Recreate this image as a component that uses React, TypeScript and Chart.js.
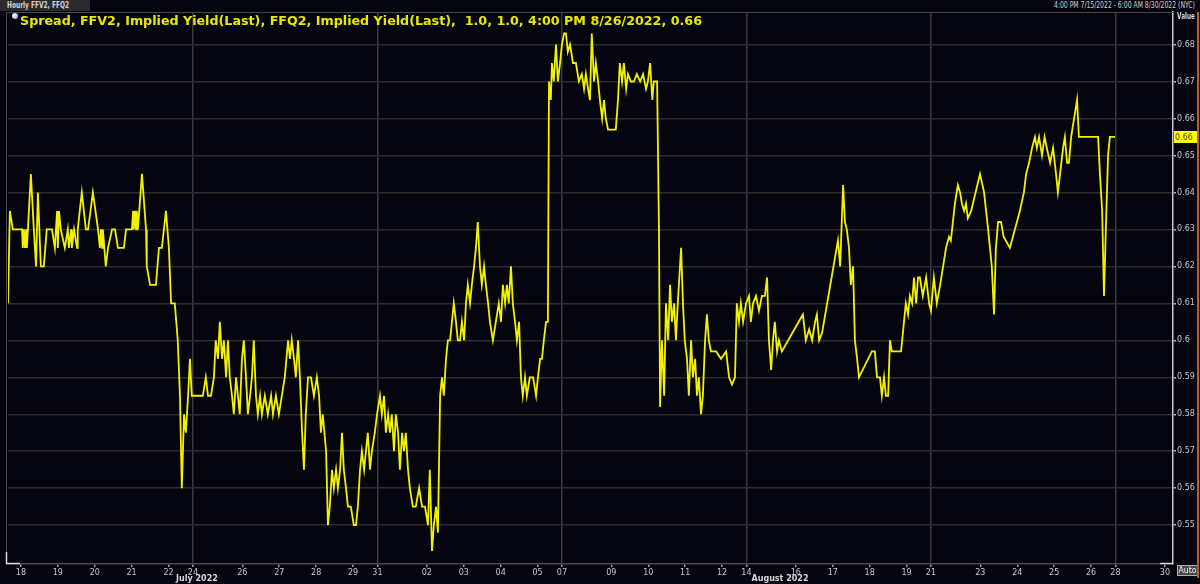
import React, { useEffect, useLayoutEffect, useRef } from "react";
import { Chart, registerables } from "chart.js";

Chart.register(...registerables);

// ---- DATA ----
// x: trading-day index (Mon 18 Jul 2022 = 0, one unit per weekday session)
const xTickValues = [0, 1, 2, 3, 4, 4.66, 6, 7, 8, 9, 9.66, 11, 12, 13, 14, 14.66, 16, 17, 18, 19, 19.66, 21, 22, 23, 24, 24.66, 26, 27, 28, 29, 29.66, 31];
const xTickLabels = ["18", "19", "20", "21", "22", "24", "26", "27", "28", "29", "31", "02", "03", "04", "05", "07", "09", "10", "11", "12", "14", "16", "17", "18", "19", "21", "23", "24", "25", "26", "28", "30"];
const weekStarts = [4.66, 9.66, 14.66, 19.66, 24.66, 29.66];
const monthLabels = ["July 2022", "August 2022"];
const monthPositions = [4.77, 20.57];
const yTickValues = [0.55, 0.56, 0.57, 0.58, 0.59, 0.6, 0.61, 0.62, 0.63, 0.64, 0.65, 0.66, 0.67, 0.68];
const lastValue = 0.655;
const lastLabel = "0.66";

const spreadX = [
  -0.35, -0.30, -0.22, 0.03, 0.05, 0.08, 0.11, 0.14, 0.16, 0.19, 0.27, 0.35, 0.41, 0.46, 0.54, 0.62, 0.70, 0.84, 0.92, 0.98,
  1.00, 1.03, 1.08, 1.19, 1.27, 1.30, 1.36, 1.38, 1.44, 1.52, 1.54, 1.65, 1.76, 1.82, 1.95, 2.09, 2.14, 2.17, 2.20, 2.22,
  2.30, 2.36, 2.47, 2.55, 2.63, 2.79, 2.85, 3.01, 3.04, 3.06, 3.09, 3.12, 3.14, 3.17, 3.28, 3.39, 3.41, 3.50, 3.66, 3.74,
  3.82, 3.93, 4.01, 4.07, 4.17, 4.25, 4.31, 4.36, 4.42, 4.47, 4.53, 4.58, 4.63, 4.66, 4.77, 4.85, 4.93, 5.01, 5.07, 5.15,
  5.23, 5.28, 5.34, 5.39, 5.45, 5.50, 5.56, 5.61, 5.66, 5.72, 5.77, 5.83, 5.88, 5.93, 5.99, 6.04, 6.10, 6.15, 6.21, 6.26,
  6.31, 6.37, 6.42, 6.48, 6.53, 6.61, 6.69, 6.78, 6.83, 6.91, 6.99, 7.07, 7.15, 7.24, 7.29, 7.34, 7.40, 7.45, 7.51, 7.56,
  7.62, 7.67, 7.72, 7.78, 7.86, 7.94, 8.02, 8.08, 8.13, 8.18, 8.27, 8.32, 8.37, 8.43, 8.48, 8.54, 8.59, 8.65, 8.70, 8.75,
  8.81, 8.86, 8.94, 9.02, 9.08, 9.13, 9.19, 9.24, 9.30, 9.35, 9.40, 9.46, 9.51, 9.59, 9.65, 9.73, 9.78, 9.84, 9.89, 9.95,
  10.00, 10.05, 10.11, 10.16, 10.22, 10.27, 10.33, 10.38, 10.43, 10.49, 10.54, 10.62, 10.70, 10.79, 10.87, 10.95, 11.03, 11.08, 11.14, 11.19,
  11.25, 11.30, 11.36, 11.41, 11.46, 11.52, 11.57, 11.63, 11.68, 11.73, 11.79, 11.84, 11.90, 11.95, 12.01, 12.06, 12.11, 12.17, 12.22, 12.28,
  12.33, 12.38, 12.44, 12.49, 12.55, 12.60, 12.66, 12.71, 12.79, 12.87, 12.95, 13.01, 13.06, 13.12, 13.17, 13.22, 13.28, 13.33, 13.39, 13.44,
  13.50, 13.55, 13.60, 13.66, 13.71, 13.79, 13.88, 13.96, 14.01, 14.07, 14.12, 14.17, 14.23, 14.28, 14.31, 14.36, 14.39, 14.44, 14.50, 14.55,
  14.61, 14.66, 14.72, 14.77, 14.82, 14.88, 14.96, 15.04, 15.12, 15.20, 15.26, 15.31, 15.37, 15.42, 15.47, 15.53, 15.58, 15.64, 15.69, 15.75,
  15.80, 15.85, 15.91, 16.02, 16.12, 16.18, 16.23, 16.29, 16.34, 16.40, 16.45, 16.53, 16.61, 16.69, 16.78, 16.86, 16.94, 16.99, 17.05, 17.11,
  17.15, 17.24, 17.29, 17.32, 17.37, 17.43, 17.48, 17.54, 17.59, 17.64, 17.70, 17.75, 17.80, 17.89, 17.94, 17.99, 18.05, 18.10, 18.16, 18.21,
  18.27, 18.32, 18.37, 18.43, 18.48, 18.54, 18.59, 18.64, 18.70, 18.84, 18.97, 19.11, 19.19, 19.27, 19.35, 19.40, 19.46, 19.51, 19.57, 19.65,
  19.73, 19.78, 19.84, 19.92, 20.00, 20.08, 20.16, 20.22, 20.27, 20.33, 20.38, 20.43, 20.49, 20.54, 20.62, 21.19, 21.27, 21.36, 21.44, 21.52,
  21.57, 21.63, 21.71, 22.14, 22.20, 22.28, 22.33, 22.38, 22.44, 22.49, 22.55, 22.60, 22.66, 22.71, 23.06, 23.14, 23.20, 23.28, 23.33, 23.39,
  23.44, 23.50, 23.55, 23.60, 23.85, 23.93, 23.98, 24.04, 24.09, 24.15, 24.20, 24.26, 24.31, 24.36, 24.44, 24.53, 24.61, 24.66, 24.74, 24.82,
  24.91, 24.99, 25.07, 25.15, 25.20, 25.31, 25.39, 25.45, 25.50, 25.56, 25.61, 25.66, 25.75, 25.99, 26.10, 26.21, 26.26, 26.31, 26.37, 26.42,
  26.48, 26.56, 26.63, 26.80, 27.07, 27.18, 27.24, 27.32, 27.40, 27.48, 27.53, 27.59, 27.67, 27.74, 27.80, 27.89, 27.97, 28.05, 28.10, 28.16,
  28.24, 28.29, 28.35, 28.40, 28.46, 28.54, 28.62, 28.67, 29.19, 29.24, 29.30, 29.35, 29.40, 29.46, 29.51, 29.65,
];

const spreadY = [
  0.61, 0.635, 0.63, 0.63, 0.625, 0.63, 0.625, 0.63, 0.625, 0.63, 0.645, 0.63, 0.62, 0.64, 0.62, 0.62, 0.63, 0.63, 0.625, 0.635,
  0.625, 0.635, 0.63, 0.625, 0.63, 0.625, 0.63, 0.625, 0.63, 0.625, 0.63, 0.64, 0.63, 0.63, 0.64, 0.63, 0.625, 0.63, 0.625, 0.63,
  0.62, 0.625, 0.63, 0.63, 0.625, 0.625, 0.63, 0.63, 0.635, 0.63, 0.635, 0.63, 0.635, 0.63, 0.645, 0.63, 0.62, 0.615, 0.615, 0.625,
  0.625, 0.635, 0.625, 0.61, 0.61, 0.60, 0.585, 0.56, 0.58, 0.575, 0.585, 0.595, 0.585, 0.585, 0.585, 0.585, 0.585, 0.59, 0.585, 0.585,
  0.59, 0.60, 0.595, 0.605, 0.595, 0.60, 0.59, 0.60, 0.59, 0.585, 0.58, 0.59, 0.585, 0.58, 0.595, 0.60, 0.59, 0.58, 0.585, 0.59,
  0.60, 0.585, 0.58, 0.585, 0.58, 0.585, 0.58, 0.585, 0.58, 0.585, 0.58, 0.585, 0.59, 0.60, 0.595, 0.60, 0.595, 0.59, 0.60, 0.59,
  0.575, 0.565, 0.58, 0.59, 0.59, 0.585, 0.59, 0.585, 0.575, 0.58, 0.57, 0.55, 0.555, 0.565, 0.56, 0.565, 0.56, 0.565, 0.575, 0.565,
  0.56, 0.555, 0.555, 0.55, 0.55, 0.555, 0.565, 0.57, 0.565, 0.57, 0.575, 0.565, 0.57, 0.575, 0.58, 0.585, 0.58, 0.585, 0.575, 0.58,
  0.575, 0.58, 0.57, 0.58, 0.575, 0.565, 0.575, 0.57, 0.575, 0.565, 0.56, 0.555, 0.555, 0.56, 0.555, 0.555, 0.55, 0.565, 0.543, 0.55,
  0.555, 0.548, 0.585, 0.59, 0.585, 0.595, 0.60, 0.60, 0.605, 0.61, 0.605, 0.60, 0.60, 0.605, 0.60, 0.61, 0.615, 0.61, 0.615, 0.62,
  0.625, 0.632, 0.62, 0.615, 0.62, 0.615, 0.61, 0.605, 0.60, 0.605, 0.61, 0.605, 0.615, 0.61, 0.615, 0.61, 0.62, 0.61, 0.605, 0.60,
  0.605, 0.59, 0.585, 0.59, 0.585, 0.59, 0.59, 0.585, 0.59, 0.595, 0.595, 0.60, 0.605, 0.605, 0.67, 0.665, 0.675, 0.67, 0.68, 0.67,
  0.675, 0.68, 0.683, 0.683, 0.678, 0.68, 0.675, 0.675, 0.67, 0.672, 0.668, 0.672, 0.668, 0.665, 0.683, 0.67, 0.675, 0.67, 0.665, 0.66,
  0.665, 0.66, 0.657, 0.657, 0.657, 0.665, 0.675, 0.67, 0.675, 0.668, 0.672, 0.67, 0.67, 0.672, 0.67, 0.672, 0.668, 0.67, 0.675, 0.665,
  0.67, 0.67, 0.63, 0.582, 0.60, 0.585, 0.61, 0.60, 0.615, 0.605, 0.61, 0.60, 0.61, 0.625, 0.61, 0.60, 0.595, 0.585, 0.60, 0.59,
  0.595, 0.585, 0.59, 0.58, 0.585, 0.60, 0.607, 0.60, 0.597, 0.597, 0.595, 0.597, 0.59, 0.588, 0.59, 0.61, 0.605, 0.61, 0.605, 0.61,
  0.612, 0.605, 0.61, 0.612, 0.608, 0.612, 0.612, 0.617, 0.60, 0.592, 0.60, 0.605, 0.597, 0.60, 0.597, 0.607, 0.60, 0.603, 0.60, 0.605,
  0.607, 0.60, 0.602, 0.627, 0.62, 0.642, 0.632, 0.63, 0.625, 0.615, 0.62, 0.60, 0.595, 0.59, 0.597, 0.597, 0.59, 0.59, 0.585, 0.59,
  0.585, 0.585, 0.60, 0.597, 0.597, 0.605, 0.61, 0.607, 0.612, 0.61, 0.617, 0.61, 0.617, 0.617, 0.612, 0.617, 0.61, 0.608, 0.617, 0.61,
  0.615, 0.62, 0.625, 0.628, 0.627, 0.637, 0.642, 0.64, 0.637, 0.635, 0.637, 0.633, 0.635, 0.645, 0.64, 0.63, 0.625, 0.62, 0.607, 0.625,
  0.632, 0.632, 0.628, 0.625, 0.635, 0.64, 0.645, 0.648, 0.652, 0.655, 0.652, 0.655, 0.65, 0.655, 0.652, 0.648, 0.652, 0.645, 0.64, 0.645,
  0.652, 0.655, 0.648, 0.648, 0.655, 0.66, 0.665, 0.655, 0.655, 0.645, 0.635, 0.612, 0.63, 0.65, 0.655, 0.655,
];

const X_MIN = -0.35;
const X_MAX = 31.22;
const Y_MIN = 0.5395;
const Y_MAX = 0.6888;

const BG = "#05050f";
const FONT = '"DejaVu Sans", sans-serif';

function FitText({ text, width, style }: { text: string; width: number; style: React.CSSProperties }) {
  const ref = useRef<HTMLSpanElement | null>(null);
  useLayoutEffect(() => {
    const el = ref.current;
    if (!el) return;
    el.style.transform = "none";
    const w = el.getBoundingClientRect().width;
    if (w > 0) el.style.transform = `scaleX(${width / w})`;
  }, [text, width]);
  return (
    <span
      ref={ref}
      style={{ position: "absolute", whiteSpace: "pre", transformOrigin: "left center", display: "inline-block", ...style }}
    >
      {text}
    </span>
  );
}

const decorPlugin = {
  id: "decor",
  afterDraw(chart: any) {
    const { ctx, chartArea: a } = chart;
    const xs = chart.scales.x;
    const ys = chart.scales.y;
    ctx.save();
    // panel frame
    ctx.strokeStyle = "#4a4a4a";
    ctx.lineWidth = 1;
    ctx.beginPath();
    ctx.moveTo(6.5, a.bottom);
    ctx.lineTo(6.5, 12.5);
    ctx.lineTo(a.right, 12.5);
    ctx.stroke();
    // bright range brackets
    ctx.strokeStyle = "#d8d8d8";
    ctx.lineWidth = 1.5;
    ctx.beginPath();
    ctx.moveTo(6.5, a.bottom - 12);
    ctx.lineTo(6.5, a.bottom - 0.5);
    ctx.lineTo(20, a.bottom - 0.5);
    ctx.stroke();
    ctx.beginPath();
    ctx.moveTo(1160, a.bottom - 0.5);
    ctx.lineTo(a.right, a.bottom - 0.5);
    ctx.stroke();
    // month labels
    ctx.font = `bold 8px ${FONT}`;
    ctx.fillStyle = "#d8d8d8";
    ctx.textAlign = "center";
    ctx.textBaseline = "middle";
    monthLabels.forEach((m, i) => ctx.fillText(m, xs.getPixelForValue(monthPositions[i]), 579));
    // last value tag
    const yp = ys.getPixelForValue(lastValue);
    ctx.fillStyle = "#ffff00";
    ctx.fillRect(a.right + 1, yp - 6, 24, 12);
    ctx.fillStyle = "#4a4a00";
    ctx.font = `8px ${FONT}`;
    ctx.textAlign = "left";
    ctx.fillText(lastLabel, a.right + 2, yp + 0.5);
    // axis title
    ctx.fillStyle = "#d8d8d8";
    ctx.font = `bold 8px ${FONT}`;
    ctx.fillText("Value", a.right + 4, 17, 18);
    // Auto box
    ctx.fillStyle = "#4a4a4a";
    ctx.fillRect(1177, 565, 20, 10);
    ctx.strokeStyle = "#b0b0b0";
    ctx.lineWidth = 1;
    ctx.strokeRect(1177.5, 565.5, 20, 10);
    ctx.fillStyle = "#eeeeee";
    ctx.font = `8px ${FONT}`;
    ctx.fillText("Auto", 1178.5, 570.5, 18);
    // orange edge
    ctx.strokeStyle = "#b8602a";
    ctx.lineWidth = 2;
    ctx.beginPath();
    ctx.moveTo(1198, 12);
    ctx.lineTo(1198, 578);
    ctx.stroke();
    ctx.restore();
  },
};

export default function App() {
  const canvasRef = useRef<HTMLCanvasElement | null>(null);

  useEffect(() => {
    const canvas = canvasRef.current;
    if (!canvas) return;
    const points = spreadX.map((x, i) => ({ x, y: spreadY[i] }));
    const chart = new Chart(canvas, {
      type: "line",
      data: {
        datasets: [
          {
            label: "Spread",
            data: points,
            borderColor: "#f2f200",
            borderWidth: 1.8,
            pointRadius: 0,
            tension: 0,
            fill: false,
          },
        ],
      },
      options: {
        responsive: false,
        animation: false,
        devicePixelRatio: 1,
        layout: { padding: { left: 8, top: 12, right: 0, bottom: 0 } },
        plugins: { legend: { display: false }, tooltip: { enabled: false } },
        scales: {
          x: {
            type: "linear",
            min: X_MIN,
            max: X_MAX,
            afterBuildTicks: (scale: any) => {
              scale.ticks = xTickValues.map((v) => ({ value: v }));
            },
            afterFit: (scale: any) => {
              scale.height = 20;
            },
            ticks: {
              autoSkip: false,
              maxRotation: 0,
              minRotation: 0,
              padding: 1,
              color: "#c8c8c8",
              font: { family: FONT, size: 8 },
              callback: (value: any, index: number) => xTickLabels[index],
            },
            grid: {
              color: (ctx: any) =>
                ctx.tick && weekStarts.includes(ctx.tick.value) ? "#3a3a3a" : "rgba(0,0,0,0)",
              lineWidth: 1.5,
              tickColor: "#a0a0a0",
              tickLength: 3,
              drawTicks: true,
            },
            border: { display: true, color: "#4a4a4a", width: 1.5 },
          },
          y: {
            type: "linear",
            position: "right",
            min: Y_MIN,
            max: Y_MAX,
            afterBuildTicks: (scale: any) => {
              scale.ticks = yTickValues.map((v) => ({ value: v }));
            },
            afterFit: (scale: any) => {
              scale.width = 27;
            },
            ticks: {
              padding: 1,
              color: "#c8c8c8",
              font: { family: FONT, size: 8 },
              callback: (value: any) => String(Number(Number(value).toFixed(2))),
            },
            grid: {
              color: "#2c2c2c",
              lineWidth: 1.5,
              tickColor: "#b0b0b0",
              tickLength: 3,
              drawTicks: true,
            },
            border: { display: true, color: "#c8c8c8", width: 1.5 },
          },
        },
      },
      plugins: [decorPlugin],
    });
    return () => chart.destroy();
  }, []);

  return (
    <div
      style={{
        position: "fixed",
        left: 0,
        top: 0,
        width: 1200,
        height: 584,
        background: BG,
        overflow: "hidden",
      }}
    >
      <div style={{ position: "absolute", left: 0, top: 0, width: 90, height: 11, background: "#2a2a2e" }} />
      <FitText
        text="Hourly FFV2, FFQ2"
        width={62}
        style={{ left: 7, top: 0, fontFamily: FONT, fontWeight: "bold", fontSize: 8, lineHeight: "11px", color: "#d4d4d4" }}
      />
      <FitText
        text="4:00 PM 7/15/2022 - 6:00 AM 8/30/2022 (NYC)"
        width={141}
        style={{ left: 1054, top: 0, fontFamily: FONT, fontSize: 8, lineHeight: "11px", color: "#d0d0d0" }}
      />
      <canvas ref={canvasRef} width={1200} height={584} style={{ position: "absolute", left: 0, top: 0, display: "block" }} />
      <div
        style={{
          position: "absolute",
          left: 12,
          top: 13,
          width: 6,
          height: 6,
          borderRadius: "50%",
          background: "radial-gradient(circle at 35% 35%, #ffffff, #8090b0)",
        }}
      />
      <FitText
        text="Spread, FFV2, Implied Yield(Last), FFQ2, Implied Yield(Last),  1.0, 1.0, 4:00 PM 8/26/2022, 0.66"
        width={682}
        style={{
          left: 20,
          top: 14,
          fontFamily: '"DejaVu Sans Condensed", "DejaVu Sans", sans-serif',
          fontWeight: "bold",
          fontSize: 12,
          lineHeight: "14px",
          color: "#e8e800",
        }}
      />
    </div>
  );
}
